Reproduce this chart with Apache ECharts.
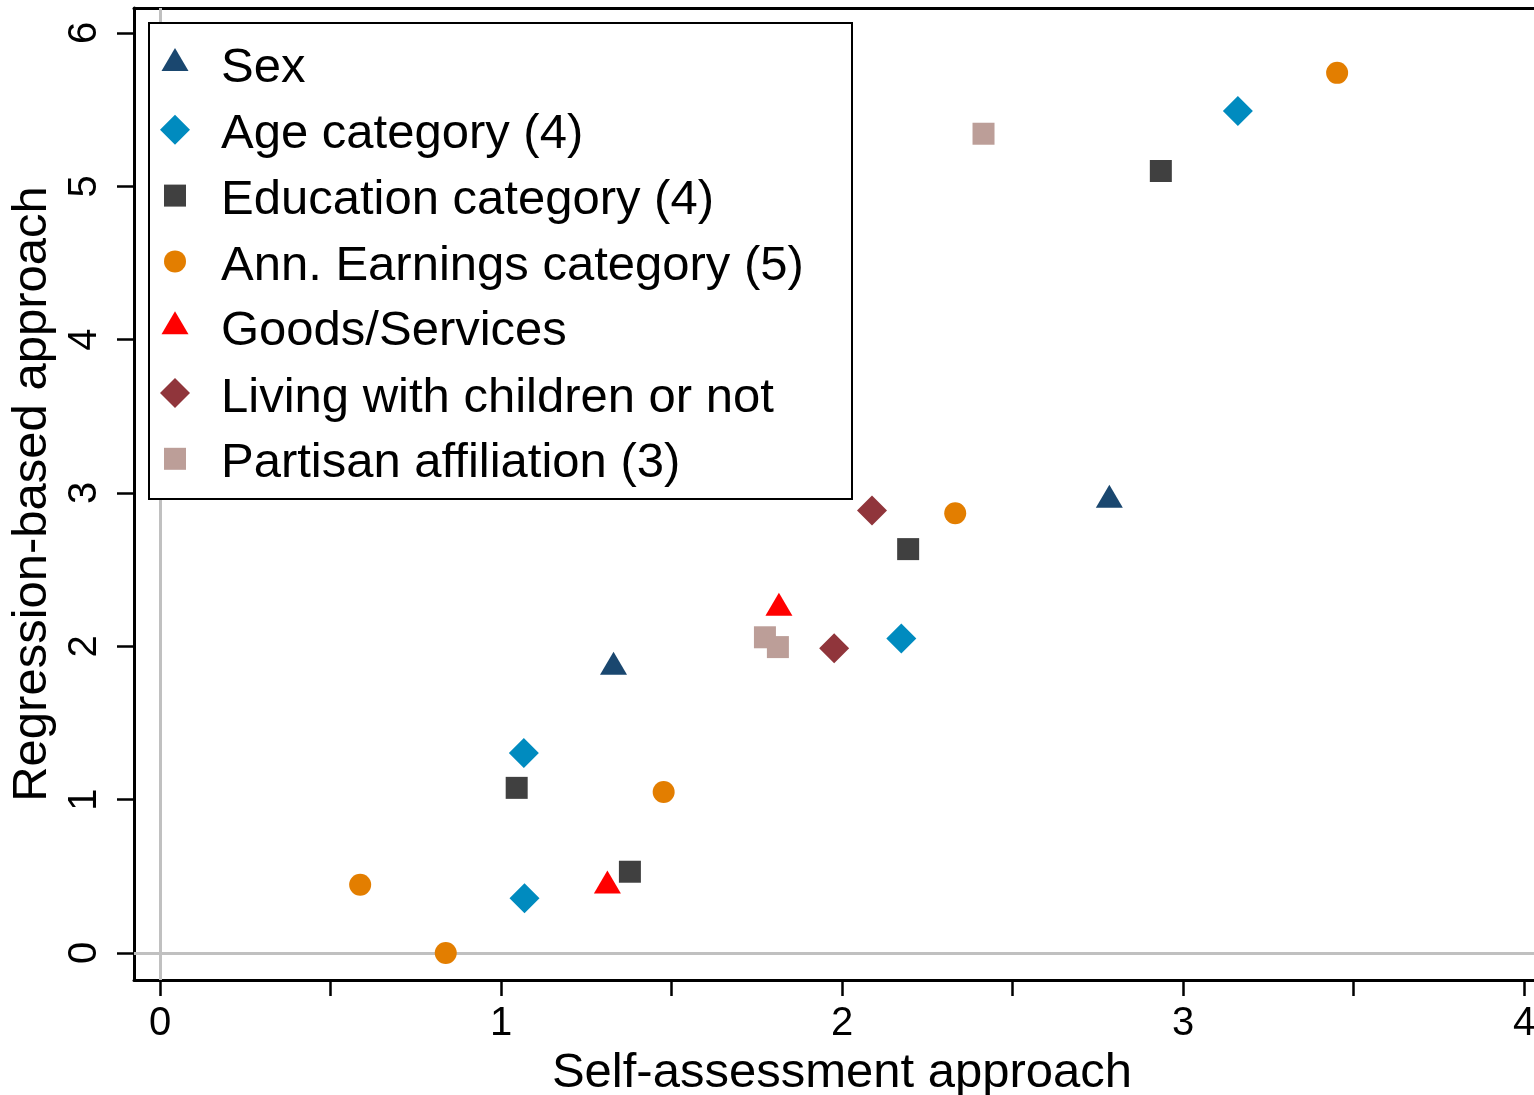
<!DOCTYPE html>
<html><head><meta charset="utf-8">
<script src="https://cdn.jsdelivr.net/npm/echarts@6/dist/echarts.min.js"></script>
<style>html,body{margin:0;padding:0;background:#fff}#chart{width:1534px;height:1095px}</style>
</head><body><div id="chart"></div>
<script>
// ---- data ----
const seriesNames = ['Sex', 'Age category (4)', 'Education category (4)', 'Ann. Earnings category (5)', 'Goods/Services', 'Living with children or not', 'Partisan affiliation (3)'];
const sexData = [[1.330, 1.890], [2.784, 2.979]];
const ageData = [[1.067, 1.304], [1.069, 0.357], [2.174, 2.051], [3.161, 5.491]];
const eduData = [[1.046, 1.077], [1.378, 0.530], [2.194, 2.634], [2.935, 5.100]];
const earnData = [[0.587, 0.445], [0.838, 0.000], [1.477, 1.050], [2.332, 2.868], [3.452, 5.740]];
const goodsData = [[1.312, 0.463], [1.815, 2.275]];
const livingData = [[1.977, 1.988], [2.088, 2.886]];
const partisanData = [[1.774, 2.059], [1.812, 1.995], [2.415, 5.343]];
const xTickValues = [0, 0.5, 1, 1.5, 2, 2.5, 3, 3.5, 4];
const xLabelValues = [0, 1, 2, 3, 4];
const yTickValues = [0, 1, 2, 3, 4, 5, 6];
const xTitle = 'Self-assessment approach';
const yTitle = 'Regression-based approach';
const refLineX = 0, refLineY = 0;

// ---- styles ----
const FONT = '"Liberation Sans", Arial, sans-serif';
const allData = [sexData, ageData, eduData, earnData, goodsData, livingData, partisanData];
const styles = [
  {symbol: 'triangle', size: [27, 23], color: '#1a476f', shift: 3, h1: 17},
  {symbol: 'diamond', size: [30, 30], color: '#008bbf', shift: 2, h1: 10},
  {symbol: 'rect', size: [22, 22], color: '#404040', shift: 2, h1: 10},
  {symbol: 'circle', size: [22, 22], color: '#e37e00', shift: 2, h1: 10},
  {symbol: 'triangle', size: [27, 23], color: '#ff0000', shift: 3, h1: 17},
  {symbol: 'diamond', size: [30, 30], color: '#90353b', shift: 2, h1: 10},
  {symbol: 'rect', size: [22, 22], color: '#bc9e98', shift: 2, h1: 10}
];
const legendTextCenter = 70, legendRowGap = 65.8, legendIconX = 175, legendTextX = 221;

const series = allData.map((d, i) => {
  const s = {
    type: 'scatter', name: seriesNames[i], data: d,
    symbol: styles[i].symbol, symbolSize: styles[i].size,
    itemStyle: {color: styles[i].color, opacity: 1},
    emphasis: {disabled: true}, animation: false, z: 2
  };
  if (i === 0) {
    s.markLine = {
      silent: true, symbol: 'none', z: 1, animation: false,
      label: {show: false},
      lineStyle: {color: '#c0c0c0', width: 3, type: 'solid'},
      emphasis: {disabled: true},
      data: [{xAxis: refLineX}, {yAxis: refLineY}]
    };
  }
  return s;
});

const legends = styles.map((st, i) => {
  const w = st.size[0], h = st.size[1];
  const lh = 60;
  const c = legendTextCenter + i * legendRowGap;
  return {
    show: true, orient: 'vertical', padding: 0, selectedMode: false,
    left: legendIconX - w / 2, top: c - st.shift - lh / 2 - st.h1 / 2,
    itemWidth: w, itemHeight: h, data: [seriesNames[i]],
    formatter: (name) => '{s| }\n{t|' + name + '}',
    textStyle: {fontSize: 49, fontFamily: FONT, color: '#000',
      padding: [0, 0, 0, legendTextX - (legendIconX + w / 2 + 5)],
      rich: {
        s: {fontSize: 2, lineHeight: st.h1},
        t: {fontSize: 49, fontFamily: FONT, color: '#000', lineHeight: lh}
      }
    },
    z: 4
  };
});

const axisLineStyle = {color: '#000', width: 3};
const option = {
  backgroundColor: '#fff',
  animation: false,
  textStyle: {fontFamily: FONT},
  grid: {left: 134, right: 0, top: 8, bottom: 115, containLabel: false, outerBoundsMode: 'none'},
  legend: legends,
  graphic: [{
    type: 'rect', z: 3, silent: true,
    shape: {x: 149, y: 23, width: 703, height: 476},
    style: {fill: '#fff', stroke: '#000', lineWidth: 2}
  }],
  xAxis: [{
    type: 'value', position: 'bottom', min: -0.07625, max: 4.02933,
    axisLine: {show: true, onZero: false, lineStyle: axisLineStyle},
    axisTick: {show: true, customValues: xTickValues, length: 16, lineStyle: {color: '#000', width: 2.5}},
    axisLabel: {show: true, customValues: xLabelValues, fontSize: 40, color: '#000', margin: 24, fontFamily: FONT},
    splitLine: {show: false},
    name: xTitle, nameLocation: 'middle', nameGap: 66,
    nameTextStyle: {fontSize: 49, color: '#000', fontFamily: FONT, padding: [0, 0, 0, 16]}
  }, {
    type: 'value', position: 'top', min: -0.07625, max: 4.02933,
    axisLine: {show: true, onZero: false, lineStyle: axisLineStyle},
    axisTick: {show: false}, axisLabel: {show: false}, splitLine: {show: false}
  }],
  yAxis: [{
    type: 'value', position: 'left', min: -0.1761, max: 6.163,
    axisLine: {show: true, onZero: false, lineStyle: axisLineStyle},
    axisTick: {show: true, customValues: yTickValues, length: 17, lineStyle: {color: '#000', width: 2.5}},
    axisLabel: {show: true, customValues: yTickValues, rotate: 90, fontSize: 40, color: '#000', margin: 29, fontFamily: FONT},
    splitLine: {show: false},
    name: yTitle, nameLocation: 'middle', nameGap: 68, nameRotate: 90,
    nameTextStyle: {fontSize: 49, color: '#000', fontFamily: FONT}
  }],
  series: series
};
const chart = echarts.init(document.getElementById('chart'), null, {renderer: 'canvas'});
chart.setOption(option);
</script></body></html>
